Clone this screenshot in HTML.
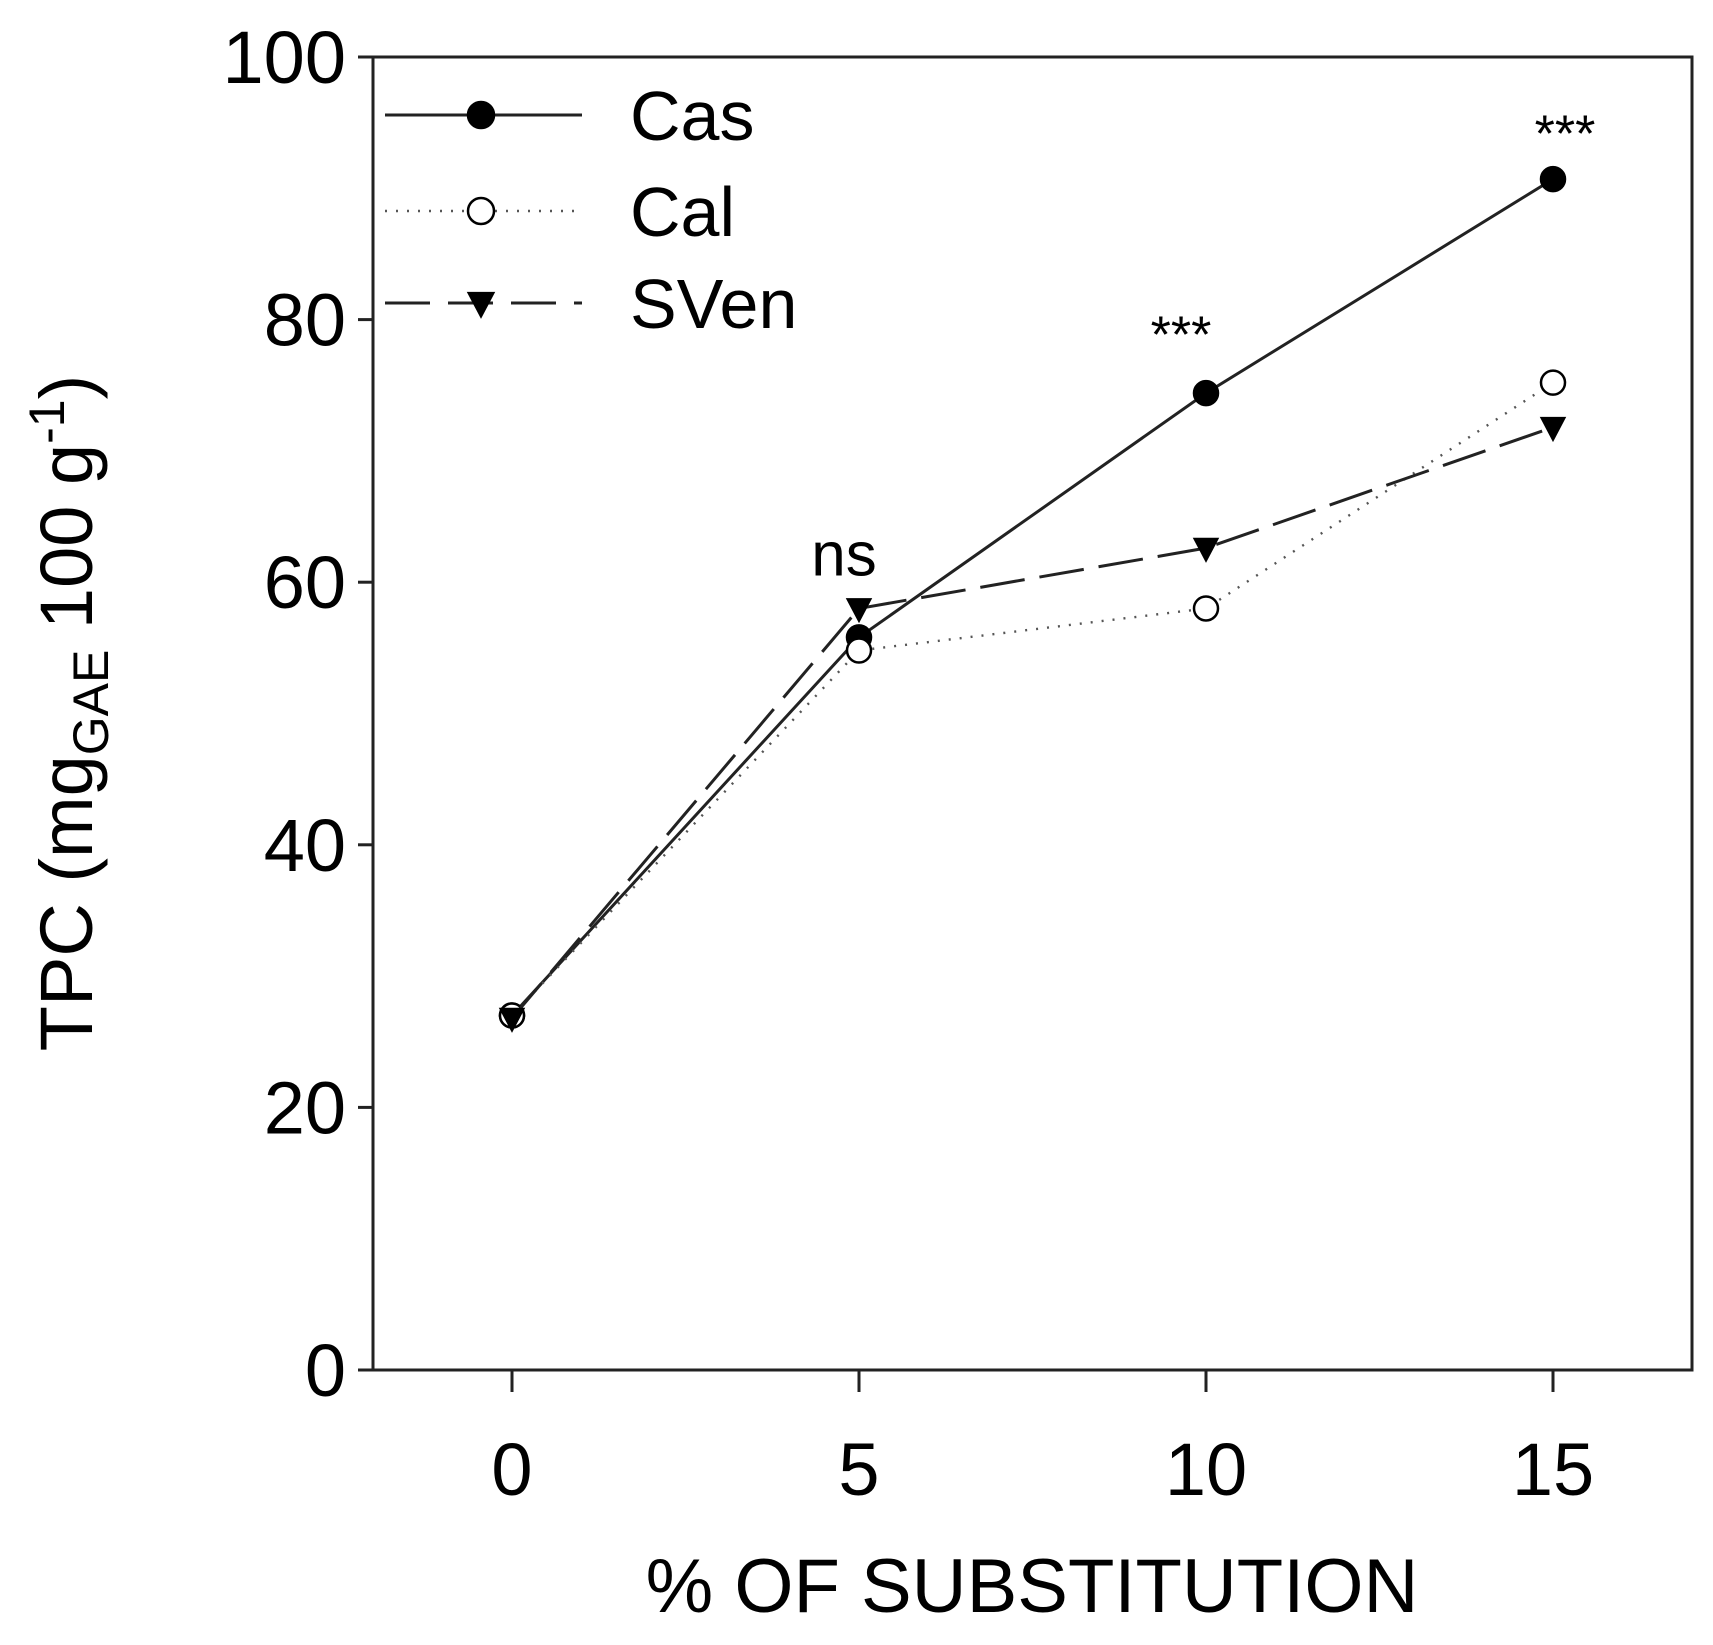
<!DOCTYPE html>
<html><head><meta charset="utf-8"><style>
html,body{margin:0;padding:0;background:#fff;}
svg text{font-family:"Liberation Sans",Arial,sans-serif;fill:#000;}
</style></head><body>
<svg id="chart" width="1713" height="1640" viewBox="0 0 1713 1640" xmlns="http://www.w3.org/2000/svg">
<g id="axes"></g>
<g id="series"></g>
<g id="legend"></g>
<text transform="translate(92,713) rotate(-90)" text-anchor="middle" font-size="74">TPC (mg<tspan font-size="50" dy="16">GAE</tspan><tspan dy="-16"> 100 g</tspan><tspan font-size="50" dy="-28">-1</tspan><tspan dy="28">)</tspan></text>
<text x="1032" y="1612" text-anchor="middle" font-size="76">% OF SUBSTITUTION</text>
</svg>
<script>
const categories = [0, 5, 10, 15];
const casValues = [27, 55.8, 74.4, 90.7];
const calValues = [27, 54.8, 58, 75.2];
const svenValues = [26.8, 58, 62.6, 71.8];
const yTicks = [0, 20, 40, 60, 80, 100];
const annotations = ["ns", "***", "***"];
const annotationX = [5, 10, 15];
const annotationY = [60.5, 77.5, 92.8];
const annotationDX = [-15, -25, 12];

const NS = "http://www.w3.org/2000/svg";
const L = 373, R = 1692, T = 57, B = 1370;
function xs(v){ return 512 + (v - 0) * (1553 - 512) / 15; }
function ys(v){ return B - v * (B - T) / 100; }
function mk(tag, attrs, parent){
  const e = document.createElementNS(NS, tag);
  for (const k in attrs) e.setAttribute(k, attrs[k]);
  parent.appendChild(e);
  return e;
}
const axes = document.getElementById('axes');
const frame = mk('rect', {x:L, y:T, width:R-L, height:B-T, fill:'none', stroke:'#222', 'stroke-width':3}, axes);


yTicks.forEach(v => {
  const t = mk('line', {x1:L-15, x2:L, y1:ys(v), y2:ys(v), stroke:'#222', 'stroke-width':3}, axes);
  
  
  const lb = mk('text', {x:346, y:ys(v)+26, 'text-anchor':'end', 'font-size':74}, axes);
  lb.textContent = v;
  
  
});
categories.forEach(c => {
  const t = mk('line', {x1:xs(c), x2:xs(c), y1:B, y2:B+22, stroke:'#222', 'stroke-width':3}, axes);
  
  
  const lb = mk('text', {x:xs(c), y:1495, 'text-anchor':'middle', 'font-size':74}, axes);
  lb.textContent = c;
  
  
});
const ser = document.getElementById('series');
const defs = [
  {name:'cas', vals:casValues, dash:'', fill:'#000', shape:'circle'},
  {name:'cal', vals:calValues, dash:'2 9', fill:'#fff', shape:'circle'},
  {name:'sven', vals:svenValues, dash:'45 15', fill:'#000', shape:'tri'}
];
function marker(shape, x, y, fill, parent, r){
  if (shape === 'circle') return mk('circle', {cx:x, cy:y, r:r, fill:fill, stroke:'#000', 'stroke-width':2.5}, parent);
  return mk('polygon', {points:`${x-r},${y-r*0.8} ${x+r},${y-r*0.8} ${x},${y+r*1.1}`, fill:fill, stroke:'#000', 'stroke-width':1.5}, parent);
}
defs.forEach(d => {
  const pts = categories.map((c,i) => xs(c)+','+ys(d.vals[i])).join(' ');
  const pl = mk('polyline', {points:pts, fill:'none', stroke: d.name==='cal' ? '#555' : '#222', 'stroke-width':d.name==='cal'?2.4:3, 'stroke-dasharray':d.dash}, ser);
  
  
  categories.forEach((c,i) => {
    const m = marker(d.shape, xs(c), ys(d.vals[i]), d.fill, ser, 12);
    
    
  });
});
annotations.forEach((a,i) => {
  const t = mk('text', {x:xs(annotationX[i]) + annotationDX[i], y:ys(annotationY[i]), 'text-anchor':'middle', 'font-size': i===0?62:52}, ser);
  t.textContent = a;
  
  
});
const leg = document.getElementById('legend');
const legNames = ['Cas','Cal','SVen'];
const legY = [115, 211, 303];
defs.forEach((d,i) => {
  const ln = mk('line', {x1:385, x2:582, y1:legY[i], y2:legY[i], stroke: d.name==='cal' ? '#555' : '#222', 'stroke-width':d.name==='cal'?2.4:3, 'stroke-dasharray': d.name==='sven' ? '45 18' : d.dash}, leg);
  
  
  const m = marker(d.shape, 481, legY[i], d.fill, leg, 13);
  
  
  const t = mk('text', {x:630, y:legY[i]+25, 'font-size':70}, leg);
  t.textContent = legNames[i];
  
  
});
</script>
</body></html>
